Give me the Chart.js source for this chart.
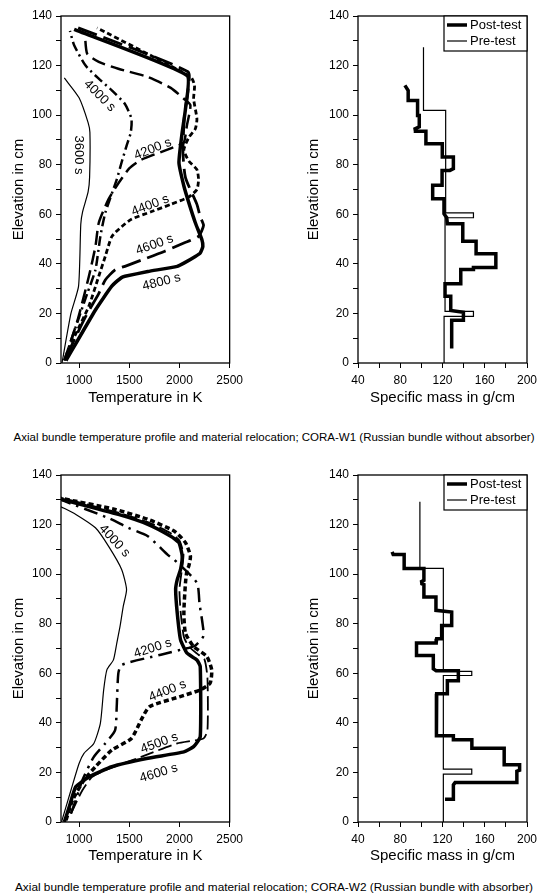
<!DOCTYPE html>
<html>
<head>
<meta charset="utf-8">
<script src="https://cdn.jsdelivr.net/npm/chart.js@4.4.0/dist/chart.umd.min.js"></script>
<style>
  body { margin: 0; background: #fff; width: 548px; height: 894px; position: relative; overflow: hidden;
         font-family: "Liberation Sans", Arial, sans-serif; }
  canvas { position: absolute; }
  .caption { position: absolute; left: 0; width: 548px; text-align: center; color: #000;
             white-space: nowrap; line-height: 13px; }
</style>
</head>
<body>
<canvas id="w1temp" width="248" height="408" style="left:0;top:0"></canvas>
<canvas id="w1mass" width="258" height="408" style="left:290px;top:0"></canvas>
<div class="caption" style="top:431px;font-size:11.5px">Axial bundle temperature profile and material relocation; CORA-W1 (Russian bundle without absorber)</div>
<canvas id="w2temp" width="248" height="407" style="left:0;top:460px"></canvas>
<canvas id="w2mass" width="258" height="407" style="left:290px;top:460px"></canvas>
<div class="caption" style="top:881px;font-size:11.8px">Axial bundle temperature profile and material relocation; CORA-W2 (Russian bundle with absorber)</div>
<script>
// tick labels
const elevTicks = [0, 10, 20, 30, 40, 50, 60, 70, 80, 90, 100, 110, 120, 130, 140];
const tempTicks = [1000, 1500, 2000, 2500];
const massTicks = [40, 60, 80, 100, 120, 140, 160, 180, 200];

// CORA-W1 temperature profiles: T in K, z in cm
const w1_t3600 = [830, 919, 995, 1017, 1035, 1090, 1105, 1108, 1090, 1000, 853];
const w1_z3600 = [0, 20, 31, 56, 61, 69, 75, 93, 97, 107, 115];
const w1_t4000 = [853, 967, 1081, 1163, 1212, 1261, 1375, 1424, 1473, 1515, 1522, 1457, 1326, 1196, 1065, 951, 909];
const w1_z4000 = [1, 14.6, 28, 37.6, 51, 60.6, 74, 81, 87.6, 93, 98.5, 104.5, 110, 114.7, 120, 128.2, 134];
const w1_t4200 = [853, 983, 1098, 1163, 1196, 1293, 1400, 1500, 1619, 1848, 1978, 2044, 2075, 2109, 2044, 1913, 1685, 1391, 1196, 1081, 1059];
const w1_z4200 = [1, 17, 35, 47, 56.5, 66, 73, 78.5, 82, 85.6, 87.6, 89, 96, 104, 106.6, 111, 115.4, 118.7, 121.5, 124.8, 132];
const w1_t4400 = [870, 935, 1098, 1196, 1261, 1326, 1424, 1521, 1717, 1913, 2093, 2174, 2190, 2174, 2093, 2044, 2093, 2158, 2174, 2141, 2150, 2110, 1179];
const w1_z4400 = [2, 9, 23, 35, 43, 51, 55, 58, 61, 64, 67, 70, 74, 78, 81.5, 86, 91, 94.5, 98.5, 106.6, 112, 115.5, 135.2];
const w1_t4600 = [870, 1065, 1196, 1261, 1359, 1457, 1587, 1848, 2044, 2190, 2240, 2207, 2174, 2060, 2035, 2050, 2085, 2085, 955];
const w1_z4600 = [2.4, 18.7, 28, 33.5, 37.6, 39, 41, 45, 48.4, 51.1, 55.5, 59, 64, 74.8, 85, 100, 110, 117.5, 135.8];
const w1_t4800 = [870, 1163, 1326, 1424, 1457, 1685, 1978, 2044, 2158, 2207, 2233, 2223, 2158, 2093, 2044, 1995, 2027, 2060, 2076, 951];
const w1_z4800 = [1, 21.4, 31, 34.5, 35, 36.9, 39, 40.3, 43, 44.4, 47, 49.8, 56.6, 64.7, 71.4, 80.8, 93, 102.5, 116, 134.6];

// CORA-W2 temperature profiles
const w2_t4000 = [825, 919, 1000, 1049, 1147, 1212, 1245, 1277, 1342, 1375, 1408, 1440, 1473, 1424, 1293, 1163, 968, 820];
const w2_z4000 = [0, 12.8, 23.6, 27.7, 31.7, 39.8, 53.3, 61.4, 65.4, 72, 78.9, 87, 93.8, 101.9, 111.3, 118.7, 124.1, 127.2];
const w2_t4200 = [919, 967, 1033, 1147, 1261, 1359, 1375, 1391, 1424, 1815, 2011, 2150, 2239, 2230, 2200, 2174, 1946, 1881, 1685, 1489, 1300, 820];
const w2_z4200 = [3.4, 8.8, 16.9, 26.3, 31.7, 37.1, 46.5, 60, 63.4, 67.5, 69.5, 71, 75, 80, 88, 96.5, 105.9, 107.9, 115.3, 118.7, 122.5, 130];
const w2_t4400 = [870, 935, 1049, 1163, 1326, 1521, 1619, 1701, 2000, 2207, 2305, 2321, 2272, 2141, 2060, 2044, 2060, 2076, 2093, 2109, 2060, 1946, 1685, 1359, 820];
const w2_z4400 = [0.7, 8.8, 16.9, 22.3, 29, 33.7, 41.2, 46.5, 50.5, 53.3, 56, 61.4, 66.8, 70.8, 76.2, 84.3, 96.5, 101.8, 103.2, 107.3, 112.7, 117.4, 122.1, 126.1, 130.6];
const w2_t4500 = [919, 1033, 1130, 1261, 1619, 1978, 2239, 2279, 2279, 2250, 2190, 2100, 2045, 2013, 2000, 2025, 2040, 2000, 1913, 1685, 1391, 820];
const w2_z4500 = [3.4, 12.8, 18.2, 20.9, 26.3, 31.7, 33.7, 37, 58, 65.5, 67.5, 70.5, 74.5, 84.3, 93.8, 102, 108, 113.5, 116.5, 121, 124.8, 130.8];
const w2_t4600 = [853, 902, 967, 1098, 1326, 1685, 2044, 2141, 2207, 2207, 2174, 2076, 2011, 1978, 1962, 1978, 2011, 2027, 1995, 1913, 1685, 1391, 820];
const w2_z4600 = [0, 6.1, 14.2, 18.2, 22.3, 25.7, 28.3, 30.4, 34.4, 62.7, 65.4, 68.1, 73.5, 84.3, 93.8, 97.8, 101.9, 107.3, 112.7, 115.3, 120.1, 124.1, 130.2];

// specific mass profiles: m in g/cm, z in cm
const w1_mPost = [84.4, 87.5, 87.5, 96.4, 96.4, 98, 98, 94, 94.4, 104.3, 104.3, 119.8, 119.8, 130.3, 130.3, 127, 119.6, 119.6, 110.7, 110.7, 121.4, 121.4, 123, 124, 124.6, 139.2, 139.2, 151.8, 151.8, 170.5, 170.5, 149.3, 149.3, 137.3, 137.3, 122.4, 122.4, 127.8, 127.8, 139.8, 139.8, 128.7, 128.7];
const w1_zPost = [112, 109.9, 105.9, 105.9, 99.9, 99.9, 95.3, 94.5, 93.5, 93.5, 88.5, 88.5, 83.1, 83.1, 78.4, 77.7, 77.7, 71.7, 71.7, 66.3, 66.3, 60.2, 59.2, 58.6, 56.2, 56.2, 49.1, 49.1, 44.1, 44.1, 38.5, 38.5, 37.7, 37.7, 32, 32, 26.9, 26.9, 21.2, 20.5, 17.2, 17.2, 5.8];
const w1_mPre = [102, 102, 123, 123, 149.3, 149.3, 122.4, 122.4, 149.3, 149.3, 121.5, 121.5];
const w1_zPre = [127.4, 101.9, 101.9, 60.6, 60.6, 58.6, 58.6, 20.8, 20.8, 18.8, 18.8, 0];
const w2_mPost = [72.3, 73.3, 83.7, 83.7, 102.4, 102.4, 100.2, 100.5, 102.4, 102.4, 113.8, 113.8, 128.7, 128.7, 119.2, 119.2, 114.5, 114, 95.4, 95.4, 111.3, 111.3, 114, 135, 135, 124.6, 124.6, 114.5, 114, 114.5, 130.3, 130.3, 147.8, 147.8, 178.4, 178.4, 193, 193, 190.4, 190.4, 131.9, 130.3, 130.3, 122.4];
const w2_zPost = [109, 107.9, 107.9, 102.3, 102.3, 97.5, 97, 96.1, 95.8, 90.8, 90.8, 85.4, 84.7, 79.3, 79.3, 73.9, 73.9, 72.2, 72.2, 67.2, 67.2, 61.8, 61, 61, 57, 57, 51.7, 51.7, 50.5, 34.8, 34.8, 33.2, 33.2, 29.8, 29.8, 23.1, 23.1, 20.9, 20.5, 15.9, 15.9, 15, 9.2, 9.2];
const w2_mPre = [98.6, 98.6, 120.8, 120.8, 147.7, 147.7, 120.8, 120.8, 147.7, 147.7, 120.8, 120.8];
const w2_zPre = [129.2, 102.3, 102.3, 60.8, 60.8, 59.1, 59.1, 21.3, 21.3, 19.3, 19.3, 0];

const black = '#000';
Chart.defaults.font.family = '"Liberation Sans", Arial, sans-serif';
Chart.defaults.color = black;

const pts = (xs, ys) => xs.map((x, i) => ({ x: x, y: ys[i] }));

function line(xs, ys, width, dash, tension) {
  return {
    data: pts(xs, ys), showLine: true, pointRadius: 0, borderColor: black,
    borderWidth: width, borderDash: dash || [], tension: tension || 0, fill: false
  };
}

// draws the box round the plot, curve labels and the legend
const extras = {
  id: 'extras',
  afterDraw(chart, args, opts) {
    const ctx = chart.ctx, a = chart.chartArea;
    ctx.save();
    ctx.strokeStyle = black;
    ctx.lineWidth = 1.3;
    ctx.strokeRect(a.left, a.top, a.right - a.left, a.bottom - a.top);
    ctx.fillStyle = black;
    ctx.font = '13px "Liberation Sans", Arial, sans-serif';
    ctx.textAlign = 'center';
    ctx.textBaseline = 'middle';
    (opts.labels || []).forEach(l => {
      const x = chart.scales.x.getPixelForValue(l.x);
      const y = chart.scales.y.getPixelForValue(l.y);
      ctx.save();
      ctx.translate(x, y);
      ctx.rotate(l.rot * Math.PI / 180);
      ctx.fillText(l.text, 0, 0);
      ctx.restore();
    });
    if (opts.legend) {
      const w = 83, h = 35, bx = a.right - w, by = a.top;
      ctx.fillStyle = '#fff';
      ctx.fillRect(bx, by, w, h);
      ctx.lineWidth = 1.2;
      ctx.strokeRect(bx, by, w, h);
      ctx.textAlign = 'left';
      ctx.fillStyle = black;
      [['Post-test', 3.5], ['Pre-test', 1.2]].forEach((e, i) => {
        const yy = by + 9 + i * 16;
        ctx.lineWidth = e[1];
        ctx.beginPath();
        ctx.moveTo(bx + 3, yy);
        ctx.lineTo(bx + 23, yy);
        ctx.stroke();
        ctx.fillText(e[0], bx + 26, yy + 0.5);
      });
    }
    ctx.restore();
  }
};

function yAxis(width, titlePad) {
  return {
    type: 'linear', min: 0, max: 140,
    afterBuildTicks: s => { s.ticks = elevTicks.map(v => ({ value: v })); },
    afterFit: s => { s.width = width; },
    ticks: { font: { size: 12 }, padding: 4, autoSkip: false, callback: v => (v % 20 === 0 ? String(v) : '') },
    grid: { drawOnChartArea: false, drawTicks: true, tickLength: 5, color: black, lineWidth: 1 },
    border: { display: false },
    title: { display: true, text: 'Elevation in cm', font: { size: 15 }, padding: { top: titlePad, bottom: 0 } }
  };
}

function xAxis(min, max, tickVals, labelStep, text, titlePad) {
  return {
    type: 'linear', position: 'bottom', min: min, max: max,
    afterBuildTicks: s => { s.ticks = tickVals.map(v => ({ value: v })); },
    afterFit: s => { s.height = 45; },
    ticks: { font: { size: 12 }, padding: 5, maxRotation: 0, autoSkip: false,
             callback: v => (v % labelStep === 0 ? String(v) : '') },
    grid: { drawOnChartArea: false, drawTicks: true, tickLength: 5, color: black, lineWidth: 1 },
    border: { display: false },
    title: { display: true, text: text, font: { size: 15 }, padding: { top: 0, bottom: titlePad } }
  };
}

function makeChart(id, datasets, xa, ya, padTop, padRight, extraOpts) {
  new Chart(document.getElementById(id), {
    type: 'scatter',
    data: { datasets: datasets },
    options: {
      responsive: false, animation: false,
      layout: { padding: { top: padTop, right: padRight, left: 0, bottom: 0 } },
      scales: { x: xa, y: ya },
      plugins: { legend: { display: false }, tooltip: { enabled: false }, extras: extraOpts }
    },
    plugins: [extras]
  });
}

makeChart('w1temp', [
  line(w1_t3600, w1_z3600, 1.2, [], 0.2),
  line(w1_t4000, w1_z4000, 2.5, [10, 4, 2, 4], 0.2),
  line(w1_t4200, w1_z4200, 2.5, [14, 6], 0.2),
  line(w1_t4400, w1_z4400, 2.8, [5, 3], 0.2),
  line(w1_t4600, w1_z4600, 2.8, [20, 7], 0.2),
  line(w1_t4800, w1_z4800, 3.5, [], 0.15)
], xAxis(820, 2500, tempTicks, 500, 'Temperature in K', 1), yAxis(61, 10), 16, 15, {
  labels: [
    { text: '3600 s', x: 1000, y: 83.9, rot: 90 },
    { text: '4000 s', x: 1205, y: 107.8, rot: 45 },
    { text: '4200 s', x: 1734, y: 86.3, rot: -22 },
    { text: '4400 s', x: 1709, y: 63.6, rot: -21 },
    { text: '4600 s', x: 1753, y: 47.7, rot: -20 },
    { text: '4800 s', x: 1822, y: 32.7, rot: -14 }
  ]
});

makeChart('w1mass', [
  line(w1_mPre, w1_zPre, 1.2),
  line(w1_mPost, w1_zPost, 3.5)
], xAxis(40, 200, massTicks, 40, 'Specific mass in g/cm', 1), yAxis(68, 15), 16, 21, { legend: true });

makeChart('w2temp', [
  line(w2_t4000, w2_z4000, 1.2, [], 0.2),
  line(w2_t4200, w2_z4200, 2.5, [14, 6, 2.5, 6], 0.2),
  line(w2_t4400, w2_z4400, 3.5, [5, 3], 0.2),
  line(w2_t4500, w2_z4500, 1.8, [14, 5], 0.2),
  line(w2_t4600, w2_z4600, 3.5, [], 0.15)
], xAxis(820, 2500, tempTicks, 500, 'Temperature in K', 2), yAxis(61, 10), 15, 15, {
  labels: [
    { text: '4000 s', x: 1352, y: 113.4, rot: 47 },
    { text: '4200 s', x: 1734, y: 70.1, rot: -18 },
    { text: '4400 s', x: 1881, y: 52.9, rot: -22 },
    { text: '4500 s', x: 1799, y: 31.8, rot: -20 },
    { text: '4600 s', x: 1793, y: 19.7, rot: -17 }
  ]
});

makeChart('w2mass', [
  line(w2_mPre, w2_zPre, 1.2),
  line(w2_mPost, w2_zPost, 3.5)
], xAxis(40, 200, massTicks, 40, 'Specific mass in g/cm', 2), yAxis(68, 15), 15, 21, { legend: true });
</script>
</body>
</html>
